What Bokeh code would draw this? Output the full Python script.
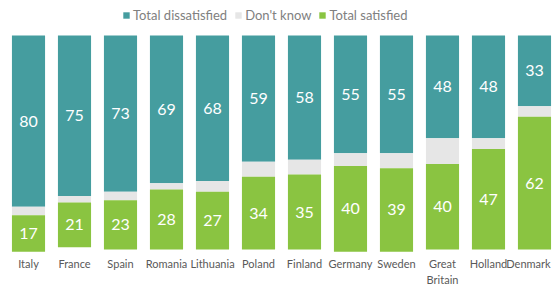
from bokeh.plotting import figure
from bokeh.models import ColumnDataSource, Range1d, Legend, LegendItem
from bokeh.core.properties import value
from bokeh.embed import file_html
from bokeh.resources import INLINE

countries = ["Italy", "France", "Spain", "Romania", "Lithuania", "Poland",
             "Finland", "Germany", "Sweden", "Great\nBritain", "Holland", "Denmark"]
dissatisfied = [80, 75, 73, 69, 68, 59, 58, 55, 55, 48, 48, 33]
dont_know = [4, 3, 4, 3, 5, 7, 7, 6, 7, 12, 5, 5]
satisfied = [17, 21, 23, 28, 27, 34, 35, 40, 39, 40, 47, 62]

TEAL = "#459D9F"
GREY = "#E6E6E6"
GREEN = "#8AC441"

xs = list(range(len(countries)))
src = ColumnDataSource(dict(
    x=xs,
    dis=dissatisfied,
    dk=dont_know,
    sat=satisfied,
    dis_lab=[str(v) for v in dissatisfied],
    sat_lab=[str(v) for v in satisfied],
    dis_y=[d / 2 for d in dissatisfied],
    sat_y=[d + k + s / 2 for d, k, s in zip(dissatisfied, dont_know, satisfied)],
))
n = len(countries)
lab_src = ColumnDataSource(dict(x=xs[:-1], name=countries[:-1], lab_y=[103.3] * (n - 1)))
last_src = ColumnDataSource(dict(x=xs[-1:], name=countries[-1:], lab_y=[103.3]))

p = figure(width=554, height=285, x_range=Range1d(-0.6087, 11.435),
           y_range=Range1d(116.82, -16.36), output_backend="svg",
           toolbar_location=None, min_border=0,
           x_axis_location=None, y_axis_location=None)
p.grid.visible = False
p.outline_line_color = None
p.background_fill_color = "white"

rs = p.vbar_stack(["dis", "dk", "sat"], x="x", width=0.72, color=[TEAL, GREY, GREEN],
                  line_color=None, source=src)

p.text(x="x", y="dis_y", text="dis_lab", source=src, text_color="white",
       text_font=value("Lato"), text_font_size="16px", text_align="center",
       text_baseline="middle")
p.text(x="x", y="sat_y", text="sat_lab", source=src, text_color="white",
       text_font=value("Lato"), text_font_size="16px", text_align="center",
       text_baseline="middle")
lab_style = dict(text_color="#595959", text_font=value("Lato"), text_font_size="11px",
                 text_align="center", text_baseline="top", text_line_height=1.3)
p.text(x="x", y="lab_y", text="name", source=lab_src, **lab_style)
p.text(x="x", y="lab_y", text="name", source=last_src, x_offset=-6, **lab_style)

legend = Legend(items=[LegendItem(label="Total dissatisfied", renderers=[rs[0]]),
                       LegendItem(label="Don't know", renderers=[rs[1]]),
                       LegendItem(label="Total satisfied", renderers=[rs[2]])],
                orientation="horizontal", location=(122, 262),
                border_line_alpha=0, background_fill_alpha=0,
                label_text_font="Lato", label_text_font_size="13px",
                label_text_color="#808080", glyph_width=8, glyph_height=8,
                label_height=16, label_standoff=3, spacing=7, padding=0, margin=0)
p.add_layout(legend, "center")

open("out.html", "w").write(file_html(p, INLINE))
